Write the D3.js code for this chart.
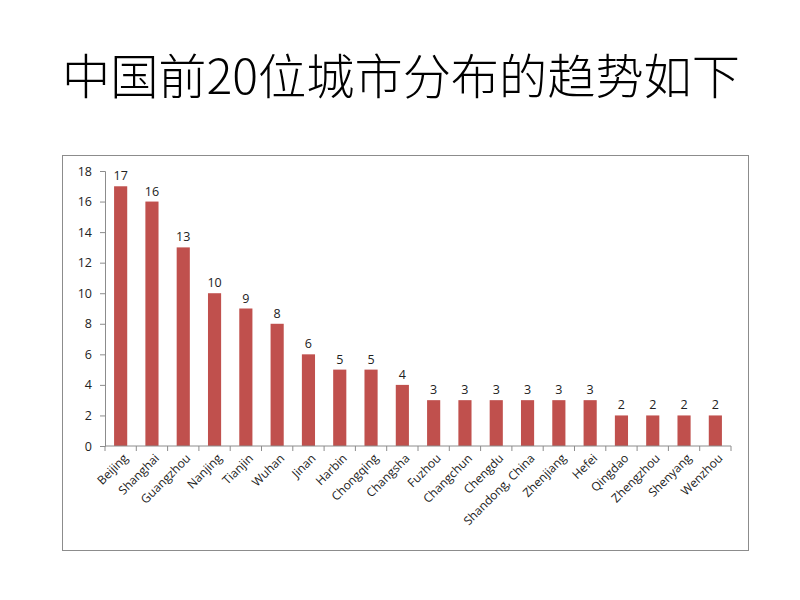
<!DOCTYPE html>
<html><head><meta charset="utf-8">
<script src="https://cdn.jsdelivr.net/npm/d3@7"></script>
<style>body{margin:0;background:#fff;}</style>
</head><body>
<svg id="c" width="800" height="600"></svg>
<script>
const title = "中国前20位城市分布的趋势如下";
const cities = ["Beijing","Shanghai","Guangzhou","Nanjing","Tianjin","Wuhan","Jinan","Harbin","Chongqing","Changsha","Fuzhou","Changchun","Chengdu","Shandong, China","Zhenjiang","Hefei","Qingdao","Zhengzhou","Shenyang","Wenzhou"];
const counts = [17,16,13,10,9,8,6,5,5,4,3,3,3,3,3,3,2,2,2,2];
const yTicks = [0,2,4,6,8,10,12,14,16,18];

const svg = d3.select("#c");
svg.append("text").attr("x",401).attr("y",94).attr("text-anchor","middle")
  .attr("font-family","'Noto Sans CJK SC', sans-serif").attr("font-weight",300)
  .attr("font-size",48).attr("fill","#000")
  .attr("textLength",678).attr("lengthAdjust","spacingAndGlyphs")
  .text(title);

svg.append("rect").attr("x",62.5).attr("y",155.5).attr("width",686).attr("height",395)
  .attr("fill","#fff").attr("stroke","#8c8c8c").attr("stroke-width",1);

const x = d3.scaleBand().domain(cities).range([105,731]).paddingInner(0.58).paddingOuter(0.29);
const y = d3.scaleLinear().domain([0,18]).range([446,171]);

const font = "'Open Sans', 'Liberation Sans', sans-serif";

// bars
svg.append("g").selectAll("rect").data(cities).join("rect")
  .attr("x",d=>x(d)).attr("width",x.bandwidth())
  .attr("y",(d,i)=>y(counts[i])).attr("height",(d,i)=>y(0)-y(counts[i]))
  .attr("fill","#c0504d");

// data labels
svg.append("g").selectAll("text").data(cities).join("text")
  .attr("x",d=>x(d)+x.bandwidth()/2).attr("y",(d,i)=>y(counts[i])-6)
  .attr("text-anchor","middle").attr("font-family",font).attr("font-size",12.5).attr("fill","#222")
  .text((d,i)=>counts[i]);

// y axis
const ya = svg.append("g").attr("transform","translate(105,0)")
  .call(d3.axisLeft(y).tickValues(yTicks).tickSize(5).tickPadding(8));
ya.selectAll("path,line").attr("stroke","#8c8c8c");
ya.selectAll("text").attr("font-family",font).attr("font-size",12.5).attr("fill","#222");

// x axis
const xa = svg.append("g").attr("transform","translate(0,446)");
xa.append("line").attr("x1",105).attr("x2",731).attr("stroke","#8c8c8c");
const bounds = d3.range(cities.length+1).map(i=>105+i*(626/cities.length));
xa.selectAll("line.t").data(bounds).join("line").attr("class","t")
  .attr("x1",d=>d).attr("x2",d=>d).attr("y1",0).attr("y2",5).attr("stroke","#8c8c8c");
xa.selectAll("text").data(cities).join("text")
  .attr("transform",d=>`translate(${x(d)+x.bandwidth()/2+8},13) rotate(-45)`)
  .attr("text-anchor","end").attr("font-family",font).attr("font-size",12).attr("fill","#222")
  .text(d=>d);
</script>
</body></html>
